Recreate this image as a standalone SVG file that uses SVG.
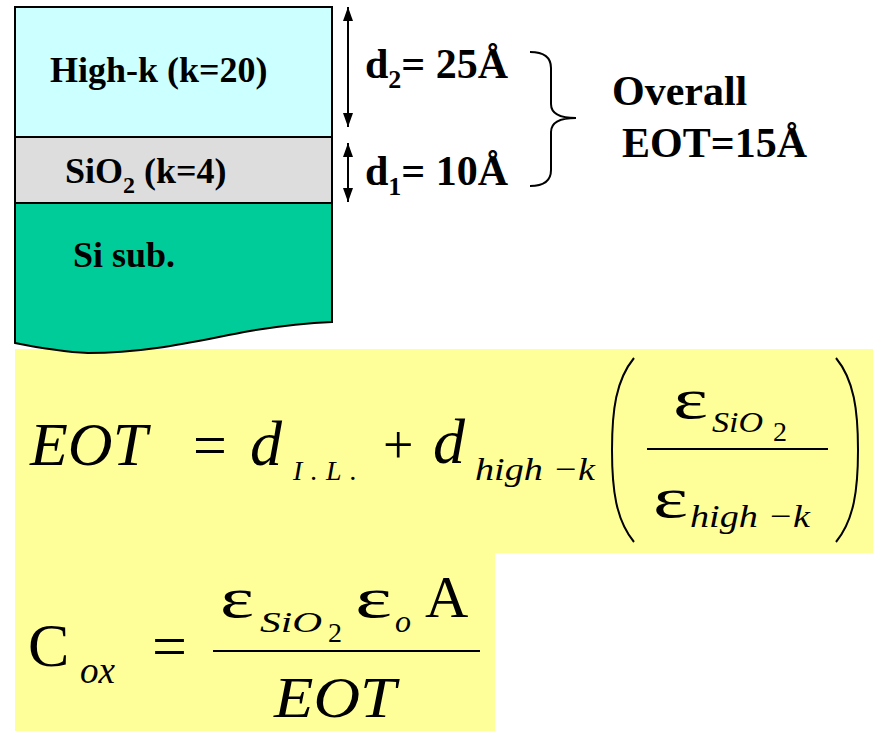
<svg xmlns="http://www.w3.org/2000/svg" width="874" height="731" viewBox="0 0 874 731">
<style>
.lbl{font-family:"Liberation Serif","Times New Roman",serif;font-weight:bold;fill:#000}
.m{font-family:"Liberation Serif","Times New Roman",serif;fill:#000}
.i{font-style:italic}
.layer{stroke:#000;stroke-width:2}
.ln{stroke:#000;stroke-width:2;fill:none}
.bg{fill:#FFFF99}
</style>
<defs>
<marker id="ah" viewBox="0 0 14 10" refX="14" refY="5" markerWidth="14" markerHeight="10" markerUnits="userSpaceOnUse" orient="auto-start-reverse">
<path d="M0,0 L14,5 L0,10 z" fill="#000"/>
</marker>
</defs>
<rect width="874" height="731" fill="#fff"/>

<g id="eq-backgrounds">
<rect class="bg" x="15" y="349" width="858" height="204"/>
<rect class="bg" x="15" y="552" width="480" height="179"/>
</g>

<g id="highk">
<rect class="layer" x="15" y="7" width="317" height="130" fill="#CCFFFF"/>
<text class="lbl" x="50" y="82" font-size="36">High-k (k=20)</text>
</g>
<g id="sio2">
<rect class="layer" x="15" y="137" width="317" height="66" fill="#DDDDDD"/>
<text class="lbl" x="65" y="183" font-size="36">SiO<tspan font-size="24" dy="10">2</tspan><tspan dy="-10"> (k=4)</tspan></text>
</g>
<g id="sisub">
<path class="layer" d="M15,203 L332,203 L332,322 C305,323 280,326 250,331 C200,340 150,353 88,353 C65,352 40,348 15,343 Z" fill="#00CC99"/>
<text class="lbl" x="73" y="267" font-size="36">Si sub.</text>
</g>

<g id="connectors">
<line class="ln" x1="348" y1="7" x2="348" y2="127" marker-start="url(#ah)" marker-end="url(#ah)"/>
<line class="ln" x1="348" y1="143" x2="348" y2="202" marker-start="url(#ah)" marker-end="url(#ah)"/>
<path class="ln" stroke-width="2.5" d="M530,52 Q551,52 551,68 L551,104 Q551,118 576,118 Q551,118 551,132 L551,170 Q551,186 530,186"/>
</g>

<g id="thickness-labels">
<text class="lbl" x="365" y="78" font-size="42">d<tspan font-size="26" dy="10">2</tspan><tspan dy="-10">= 25Å</tspan></text>
<text class="lbl" x="365" y="185" font-size="42">d<tspan font-size="26" dy="10">1</tspan><tspan dy="-10">= 10Å</tspan></text>
</g>
<g id="overall">
<text class="lbl" x="612" y="105" font-size="42">Overall</text>
<text class="lbl" x="622" y="157" font-size="42">EOT=15Å</text>
</g>

<g id="eq1">
<text class="m i" x="30" y="465" font-size="62">EOT</text>
<text class="m" x="193" y="465" font-size="60">=</text>
<text class="m i" x="250" y="465" font-size="64">d</text>
<text class="m i" x="293" y="480" font-size="28" textLength="64">I.L.</text>
<text class="m" x="383" y="463" font-size="54">+</text>
<text class="m i" x="433" y="463" font-size="64">d</text>
<text class="m i" x="475" y="480" font-size="32" textLength="120" lengthAdjust="spacingAndGlyphs">high −k</text>
<path class="ln" stroke-width="2.5" d="M634,358 C616,380 612,410 612,450 C612,490 616,520 634,542"/>
<path class="ln" stroke-width="2.5" d="M836,358 C854,380 858,410 858,450 C858,490 854,520 836,542"/>
<text class="m" x="673" y="418" font-size="56" textLength="35" lengthAdjust="spacingAndGlyphs">ε</text>
<text class="m i" x="712" y="432" font-size="30" textLength="51" lengthAdjust="spacingAndGlyphs">SiO</text>
<text class="m" x="773" y="441" font-size="28">2</text>
<line class="ln" x1="647" y1="449" x2="828" y2="449"/>
<text class="m" x="653" y="517" font-size="56" textLength="35" lengthAdjust="spacingAndGlyphs">ε</text>
<text class="m i" x="690" y="527" font-size="32" textLength="120" lengthAdjust="spacingAndGlyphs">high −k</text>
</g>

<g id="eq2">
<text class="m" x="28" y="666" font-size="62">C</text>
<text class="m i" x="80" y="683" font-size="38" textLength="35" lengthAdjust="spacingAndGlyphs">ox</text>
<text class="m" x="152" y="667" font-size="62">=</text>
<text class="m" x="220" y="617" font-size="56" textLength="34" lengthAdjust="spacingAndGlyphs">ε</text>
<text class="m i" x="260" y="632" font-size="30" textLength="62" lengthAdjust="spacingAndGlyphs">SiO</text>
<text class="m" x="328" y="642" font-size="28">2</text>
<text class="m" x="355" y="617" font-size="56" textLength="37" lengthAdjust="spacingAndGlyphs">ε</text>
<text class="m i" x="395" y="632" font-size="32">o</text>
<text class="m" x="425" y="617" font-size="60">A</text>
<line class="ln" stroke-width="2.5" x1="213" y1="651" x2="480" y2="651"/>
<text class="m i" x="274" y="717" font-size="58" textLength="122" lengthAdjust="spacingAndGlyphs">EOT</text>
</g>
</svg>
